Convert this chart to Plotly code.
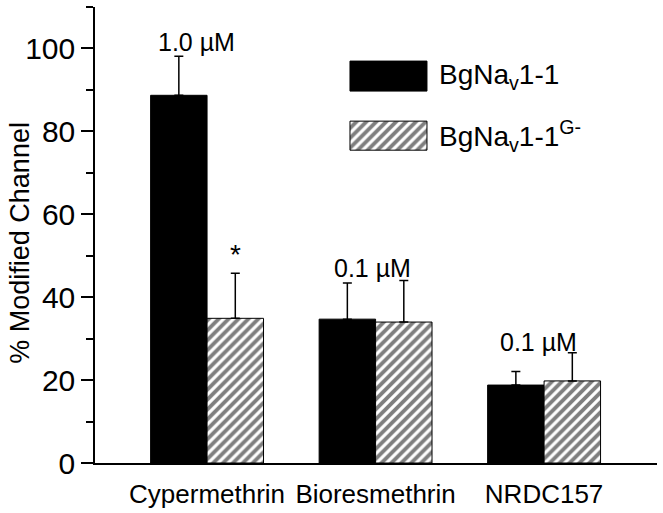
import plotly.graph_objects as go

categories = ["Cypermethrin", "Bioresmethrin", "NRDC157"]
wt_values = [88.7, 34.7, 18.8]
wt_errors = [9.4, 8.7, 3.3]
mut_values = [34.9, 34.0, 19.8]
mut_errors = [10.9, 10.0, 6.8]
series_names = ["BgNa<sub>v</sub>1-1", "BgNa<sub>v</sub>1-1<sup>G-</sup>"]
conc_labels = ["1.0 µM", "0.1 µM", "0.1 µM"]
y_ticks = [0, 20, 40, 60, 80, 100]
y_title = "% Modified Channel"

FONT = "Arial, Liberation Sans, Helvetica, sans-serif"
PAT = dict(shape="/", fgcolor="black", bgcolor="white", size=7, solidity=0.55)

fig = go.Figure()
fig.add_trace(go.Bar(
    x=categories, y=wt_values, name=series_names[0],
    marker=dict(color="black", line=dict(color="black", width=1)),
    error_y=dict(type="data", array=wt_errors, arrayminus=[0, 0, 0], symmetric=False,
                 color="black", thickness=1.5, width=4.5),
    showlegend=False,
))
fig.add_trace(go.Bar(
    x=categories, y=mut_values, name=series_names[1],
    marker=dict(color="white", line=dict(color="black", width=1), pattern=PAT),
    error_y=dict(type="data", array=mut_errors, arrayminus=[0, 0, 0], symmetric=False,
                 color="black", thickness=1.5, width=4.5),
    showlegend=False,
))

# legend swatches drawn on an overlay axis spanning the plot area
lx0, lx1 = 0.4537, 0.5907
sw = [(0.8156, 0.8814), (0.686, 0.7497)]
fig.add_trace(go.Scatter(
    x=[lx0, lx1, lx1, lx0, lx0], y=[sw[0][0], sw[0][0], sw[0][1], sw[0][1], sw[0][0]],
    fill="toself", fillcolor="black", line=dict(color="black", width=1), mode="lines",
    xaxis="x2", yaxis="y2", showlegend=False, hoverinfo="skip"))
fig.add_trace(go.Scatter(
    x=[lx0, lx1, lx1, lx0, lx0], y=[sw[1][0], sw[1][0], sw[1][1], sw[1][1], sw[1][0]],
    fill="toself", fillcolor="white", fillpattern=PAT,
    line=dict(color="black", width=1), mode="lines",
    xaxis="x2", yaxis="y2", showlegend=False, hoverinfo="skip"))

annotations = []
for name, yc in zip(series_names, [0.848, 0.718]):
    annotations.append(dict(x=0.6085, y=yc, xref="paper", yref="paper", text=name,
                            showarrow=False, xanchor="left", yanchor="middle",
                            font=dict(size=28, color="black", family=FONT)))

conc_pos = [(-0.06, 101.5), (0.98, 47.1), (1.965, 29.2)]
for lab, (xp, yp) in zip(conc_labels, conc_pos):
    annotations.append(dict(x=xp, y=yp, xref="x", yref="y", text=lab, showarrow=False,
                            xanchor="center", yanchor="middle",
                            font=dict(size=25, color="black", family=FONT)))
annotations.append(dict(x=0.167, y=50.3, xref="x", yref="y", text="*", showarrow=False,
                        xanchor="center", yanchor="middle",
                        font=dict(size=28, color="black", family=FONT)))
annotations.append(dict(x=-0.1335, y=0.483, xref="paper", yref="paper", text=y_title,
                        textangle=-90, showarrow=False, xanchor="center", yanchor="middle",
                        font=dict(size=27, color="black", family=FONT)))

fig.update_layout(
    width=663, height=513,
    margin=dict(l=95, r=6, t=7, b=50),
    plot_bgcolor="white", paper_bgcolor="white",
    barmode="group", bargap=0.33, bargroupgap=0,
    font=dict(family=FONT, color="black"),
    annotations=annotations,
    xaxis=dict(range=[-0.665, 2.67], showline=True, linecolor="black", linewidth=1.5,
               ticks="", showgrid=False, zeroline=False, automargin=False,
               tickfont=dict(size=26, family=FONT, color="black"), ticklabelstandoff=7),
    yaxis=dict(range=[0, 110], showline=True, linecolor="black", linewidth=1.5,
               tickvals=y_ticks, ticks="outside", ticklen=12, tickwidth=1.5, tickcolor="black",
               minor=dict(dtick=10, tick0=0, ticks="outside", ticklen=7, tickwidth=1.5,
                          tickcolor="black", showgrid=False),
               showgrid=False, zeroline=False, automargin=False,
               tickfont=dict(size=30, family=FONT, color="black")),
    xaxis2=dict(range=[0, 1], overlaying="x", visible=False, fixedrange=True),
    yaxis2=dict(range=[0, 1], overlaying="y", visible=False, fixedrange=True),
)

fig.write_html("out.html", config={"displayModeBar": False},
               post_script="document.body.style.margin='0';")
